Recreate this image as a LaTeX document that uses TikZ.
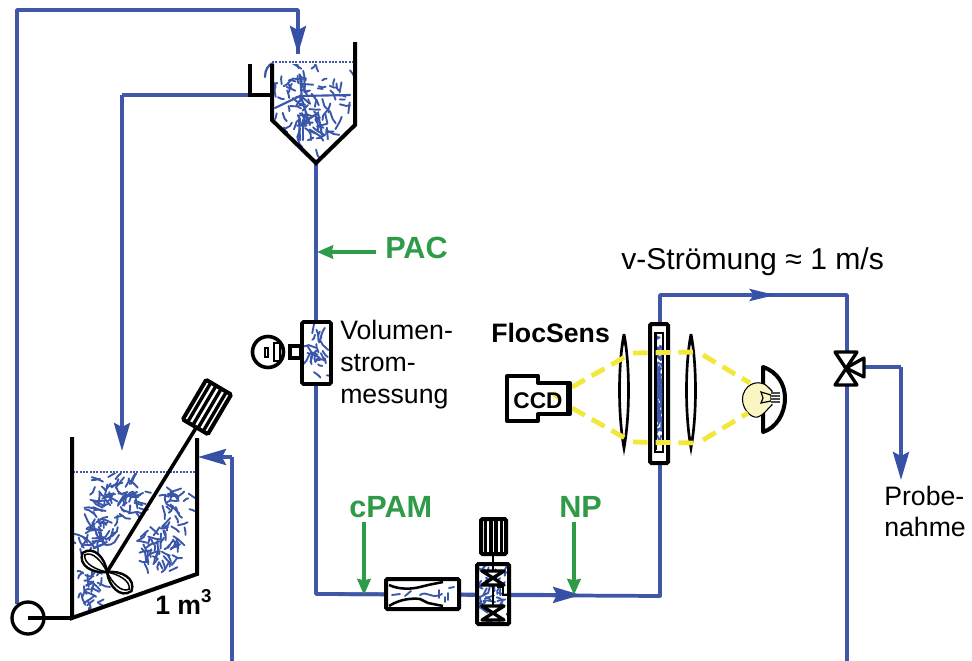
\documentclass[tikz,border=0pt]{standalone}
\usepackage{fontspec}
\setmainfont{Liberation Sans}
\usetikzlibrary{arrows.meta}
\definecolor{pipeblue}{HTML}{3F57A6}
\definecolor{tipblue}{HTML}{3550A5}
\definecolor{flocblue}{HTML}{3A56AA}
\definecolor{dosegreen}{HTML}{2F9A48}
\definecolor{beam}{HTML}{F2E83A}
\definecolor{bulb}{HTML}{FAF6C4}
\newcommand{\flocs}[6]{%
  \pgfmathsetseed{#1}%
  \foreach \i in {1,...,#6}{%
    \pgfmathsetmacro\fx{#2+#4*(rnd+rnd-1)}%
    \pgfmathsetmacro\fy{#3+#5*(rnd+rnd-1)}%
    \pgfmathsetmacro\fa{360*rnd}%
    \pgfmathsetmacro\fl{3+6*rnd}%
    \pgfmathsetmacro\fb{\fa+70*(rnd-.5)}%
    \draw[floc] (\fx,\fy) -- ++(\fa:\fl) -- ++(\fb:\fl*.6);%
  }%
}
\tikzset{
  x=0.75pt,y=-0.75pt,
  pipe/.style={draw=pipeblue,line width=2.8pt},
  black line/.style={draw=black,line width=3pt,line join=miter},
  thin black/.style={draw=black,line width=2pt},
  floc/.style={draw=flocblue,line width=1.4pt,line cap=round},
  blue tip/.style={pipe,-{Stealth[length=21pt,width=12pt,inset=3pt,fill=tipblue,color=tipblue]}},
  small tip/.style={pipe,-{Stealth[length=19pt,width=9pt,inset=3pt,fill=tipblue,color=tipblue]}},
  green arrow/.style={draw=dosegreen,line width=3pt,-{Stealth[length=12pt,width=10pt,inset=1pt]}},
  beam line/.style={draw=beam,line width=3.6pt,dash pattern=on 11pt off 6pt},
  water/.style={draw=pipeblue,line width=2pt,dash pattern=on 1.5pt off 1pt},
  label/.style={anchor=base west,inner sep=0pt,font=\fontsize{20}{24}\selectfont},
  green label/.style={anchor=base west,inner sep=0pt,text=dosegreen,font=\fontsize{23}{27}\selectfont\bfseries},
  bold label/.style={anchor=base west,inner sep=0pt,font=\fontsize{20}{24}\selectfont\bfseries},
  valve/.style={draw=black,line width=2.5pt,fill=white,line join=round},
}
\begin{document}
\begin{tikzpicture}
\useasboundingbox (0,0) rectangle (972,661);
% named points
\coordinate (pumpC) at (28,618);
\coordinate (pumpUp) at (17,604);
\coordinate (topL) at (17,10);
\coordinate (topR) at (298,10);
\coordinate (feedTip) at (298,54);
\coordinate (weir) at (250,95);
\coordinate (retC) at (122,95);
\coordinate (retTip) at (122,451);
\coordinate (apex) at (316,163);
\coordinate (bend1) at (316,594);
\coordinate (bend2) at (660,596);
\coordinate (bend3) at (660,295);
\coordinate (bend4) at (847,295);
\coordinate (exit) at (847,661);
\coordinate (midFlow) at (775,295);
\coordinate (npFlow) at (581,595);
\coordinate (valveC) at (846,367);
\coordinate (sampC) at (901,367);
\coordinate (sampTip) at (901,480);
\coordinate (inB) at (232,661);
\coordinate (inC) at (232,457);
\coordinate (inTip) at (198,457);
% pipes
\draw[pipe,line join=round] (pumpUp) -- (topL) -- (topR) -- (feedTip);
\draw[blue tip] (topR) -- (feedTip);
\draw[pipe] (weir) -- (retC);
\draw[blue tip] (retC) -- (retTip);
\draw[pipe,line join=round] (apex) -- (bend1) -- (bend2) -- (bend3) -- (bend4) -- (exit);
\draw[small tip] (bend3) -- (midFlow);
\draw[blue tip] (bend1) -- (npFlow);
\draw[pipe] (valveC) -- (sampC);
\draw[blue tip] (sampC) -- (sampTip);
\draw[pipe] (inB) -- (inC);
\draw[blue tip] (inC) -- (inTip);
% settler
\begin{scope}
\clip (273,64) -- (273,120) -- (316,162) -- (355,125) -- (355,64) -- cycle;
\flocs{11}{312}{102}{46}{52}{95}
\draw[floc,line width=1.6pt] (275,108) -- (300,96) -- (350,95);
\draw[floc,line width=1.6pt] (300,75) -- (302,100) -- (310,125);
\draw[floc,line width=1.6pt] (300,125) -- (318,113) -- (322,135);
\draw[floc,line width=1.6pt] (299,120) -- (300,140);
\draw[floc,line width=1.6pt] (303,120) -- (303,140);
\end{scope}
\draw[water] (272,62) -- (355,62);
\draw[floc,line width=1.7pt] (265,77) .. controls (265,70) and (268,65) .. (273,63);
\draw[black line] (250,64) -- (250,95) -- (272,95);
\draw[black line] (272,64) -- (272,120) -- (apex) -- (355,125) -- (355,42);
% tank
\begin{scope}
\clip (73,473) -- (73,617) -- (196,575) -- (196,473) -- cycle;
\flocs{3}{120}{497}{30}{24}{60}
\flocs{5}{96}{535}{24}{27}{45}
\flocs{7}{91}{590}{14}{23}{28}
\flocs{9}{162}{548}{30}{26}{50}
\flocs{13}{175}{505}{18}{25}{28}
\end{scope}
\draw[water] (73,472) -- (196,472);
\draw[black line] (72,437) -- (72,618) -- (197,574) -- (197,438);
\draw[thin black,line width=2.5pt] (pumpC) -- (72,618);
\draw[thin black,line width=2.5pt] (pumpC) circle[radius=16];
% stirrer
\coordinate (hub) at (107,572);
\draw[thin black,line width=2.7pt] (hub) -- (196,428);
\begin{scope}[shift={(207,407)},rotate=59.5]
  \draw[black line,fill=white,rounded corners=1pt] (-23,-14.5) rectangle (23,14.5);
  \foreach \yy in {-9,-3,3,9}{\fill (-23,\yy-1.7) rectangle (23,\yy+1.7);}
\end{scope}
\begin{scope}[shift={(hub)},rotate=-38]
  \foreach \sx in {-1,1}{
   \draw[thin black,line width=1.8pt,fill=white] (0,0) .. controls (\sx*10,-10) and (\sx*27,-13) .. (\sx*31,0) .. controls (\sx*27,13) and (\sx*10,10) .. (0,0);
   \draw[black,line width=1.1pt] (0,0) .. controls (\sx*10,-5) and (\sx*24,-8) .. (\sx*28,0) .. controls (\sx*24,8) and (\sx*10,5) .. (0,0);
  }
\end{scope}
\node[bold label] (vol) at (155,614) {1 m\raisebox{0.42em}{\fontsize{14}{14}\selectfont 3}};
% flow meter
\fill[white] (301,322) rectangle (332,384);
\begin{scope}
\clip (301,322) rectangle (332,384);
\flocs{21}{317}{353}{14}{30}{24}
\end{scope}
\draw[black line,line width=2.7pt,rounded corners=1pt] (302,322) rectangle (331,384);
\draw[black line,line width=2.7pt,fill=white] (290,346) rectangle (301,358);
\draw[black line,line width=2.7pt,fill=white] (268,352) circle[radius=15.5];
\draw[thin black,line width=1.5pt] (264.5,348) rectangle (268,357);
\draw[thin black,line width=1.5pt] (274,343) rectangle (280,361);
\node[label] (v1) at (340,339) {Volumen-};
\node[label] (v2) at (340,371) {strom-};
\node[label] (v3) at (340,403) {messung};
% cPAM mixer
\fill[white] (386,579) rectangle (459,609);
\begin{scope}
\clip (386,579) rectangle (459,609);
\draw[floc] (392,595) -- (400,594); \draw[floc] (405,596) -- (411,591);
\draw[floc] (420,595) .. controls (427,590) and (432,600) .. (442,594);
\draw[floc] (439,590) -- (439,598);
\draw[floc] (448,593) -- (448,600);
\draw[floc] (449,588) -- (454,587);
\draw[floc] (445,597) -- (445,602);
\end{scope}
\draw[black line,rounded corners=1pt] (386,579) rectangle (459,609);
\draw[thin black,line width=1.9pt] (389,585) .. controls (400,590) and (412,589) .. (420,587) -- (428,585) -- (443,582);
\draw[thin black,line width=1.9pt] (389,606) .. controls (400,599) and (412,598) .. (420,599) -- (428,603) -- (443,606);
% static mixer 2
\fill[white] (476,564) rectangle (509,624);
\begin{scope}
\clip (476,564) rectangle (509,624);
\flocs{41}{492}{594}{18}{32}{42}
\end{scope}
\draw[black line,rounded corners=1pt] (477,564) rectangle (509,624);
\draw[thin black,line width=2.2pt] (493,555) -- (493,610);
\draw[valve] (482,571) -- (504,571) -- (482,585) -- (504,585) -- cycle;
\draw[valve] (482,606) -- (504,606) -- (482,620) -- (504,620) -- cycle;
\draw[thin black,line width=1.7pt] (497,587) -- (503,587) -- (503,595) -- (509,595);
\draw[black line,fill=white,rounded corners=1pt] (481,519) rectangle (506,554);
\foreach \xx in {485.5,491,496,501.5}{\fill (\xx-1.8,519) rectangle (\xx+1.8,554);}
% dosing arrows
\coordinate (pacS) at (376,252);
\coordinate (pacT) at (317,252);
\coordinate (cpS) at (364,522);
\coordinate (cpT) at (364,595);
\coordinate (npS) at (574,522);
\coordinate (npT) at (574,595);
\draw[green arrow] (pacS) -- (pacT);
\draw[green arrow] (cpS) -- (cpT);
\draw[green arrow] (npS) -- (npT);
\node[green label] (pac) at (385,258) {PAC};
\node[green label] (cpam) at (349,517) {cPAM};
\node[green label] (np) at (559,517) {NP};
% flow cell and optics
\draw[black line,fill=white,rounded corners=1pt] (650,324) rectangle (668,463);
\draw[thin black,fill=white,line width=1.7pt] (655,333) rectangle (663,452);
\begin{scope}
\clip (656,335) rectangle (662,445);
\fill[white] (656,335) rectangle (662,445);
\foreach \ss in {1,2}{\flocs{5\ss}{659}{390}{4}{60}{60}}
\end{scope}
\draw[black,line width=2pt] (655.5,333) -- (655.5,450);
\draw[black,line width=2pt,fill=white] (624,334) .. controls (618,365) and (618,415) .. (624,448) .. controls (630,415) and (630,365) .. (624,334);
\draw[black,line width=2pt,fill=white] (691,334) .. controls (685,365) and (685,415) .. (691,448) .. controls (697,415) and (697,365) .. (691,334);
\foreach \lx in {624,691}{
  \fill (\lx,334) .. controls (\lx-3,350) and (\lx+3,350) .. (\lx,334);
  \fill (\lx,448) .. controls (\lx-3,432) and (\lx+3,432) .. (\lx,448);
}
% reflector and bulb
\draw[black line,fill=white,line join=round] (763,367) .. controls (778,372) and (785,385) .. (785,398) .. controls (785,414) and (776,428) .. (763,432) -- cycle;
\draw[thin black,line width=0.8pt,fill=bulb] (772,391) -- (768,387) .. controls (762,380) and (747,381) .. (743,395) .. controls (740,406) and (750,419) .. (758,417) .. controls (764,415) and (768,408) .. (772,405) -- cycle;
\draw[thin black,line width=0.9pt] (761,392) -- (771,395) -- (771,401) -- (761,403) -- (763,398) -- cycle;
\fill[black!70] (771,392) rectangle (780,404);
\foreach \yy in {394,397,400,403}{\draw[white,line width=0.5pt] (771,\yy) -- (780,\yy);}
% beams
\coordinate (b1) at (572,387); \coordinate (b2) at (625,357);
\coordinate (b3) at (633,353); \coordinate (b4) at (695,352);
\coordinate (b5) at (703,355); \coordinate (b6) at (750,383);
\coordinate (c1) at (572,408); \coordinate (c2) at (625,438);
\coordinate (c3) at (633,442); \coordinate (c4) at (695,443);
\coordinate (c5) at (703,440); \coordinate (c6) at (748,413);
\draw[beam line] (b1) -- (b2);
\draw[beam line] (b3) -- (b4);
\draw[beam line] (b5) -- (b6);
\draw[beam line] (c1) -- (c2);
\draw[beam line] (c3) -- (c4);
\draw[beam line] (c5) -- (c6);
% CCD
\draw[black line,fill=white,line join=round] (507,376) -- (538,376) -- (538,383) -- (570,383) -- (570,414) -- (538,414) -- (538,421) -- (507,421) -- cycle;
\draw[beam,line width=3.6pt] (553,393) -- (559,398);
\fill (566,383) rectangle (570,414);
\node[anchor=base,inner sep=0pt,font=\fontsize{17}{20}\selectfont\bfseries] (ccd) at (538,408) {CCD};
\node[bold label] (fs) at (491,342) {FlocSens};
\node[anchor=base west,inner sep=0pt,font=\fontsize{22.6}{26}\selectfont] (vel) at (621,269) {v-Strömung ≈ 1 m/s};
% sample valve
\draw[valve] (835,352) -- (857,352) -- (835,385) -- (857,385) -- cycle;
\draw[valve] (846,368) -- (864,358) -- (864,377) -- cycle;
\node[label] (p1) at (884,505) {Probe-};
\node[label] (p2) at (884,536) {nahme};
\end{tikzpicture}
\end{document}
